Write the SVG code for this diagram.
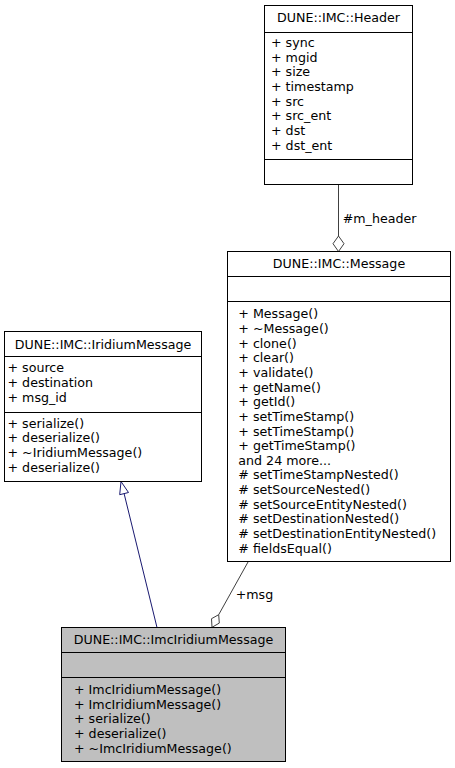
<svg xmlns="http://www.w3.org/2000/svg" width="455" height="768" viewBox="0 0 455 768">
<style>
text{font-family:"DejaVu Sans","Liberation Sans",sans-serif;font-size:12.65px;fill:#000}
.t{text-anchor:middle}
.box{fill:#fff;stroke:#000;stroke-width:1}
.cur{fill:#bfbfbf;stroke:#000;stroke-width:1}
.sep{stroke:#000;stroke-width:1}
.e{fill:none;stroke:#404040;stroke-width:1}
.d{fill:#fff;stroke:#404040;stroke-width:1}
.inh{fill:none;stroke:#191970;stroke-width:1}
.tri{fill:#fff;stroke:#191970;stroke-width:1}
</style>
<rect width="455" height="768" fill="#fff"/>
<g id="connectors">
<line class="e" x1="338.5" y1="184.5" x2="338.5" y2="236"/>
<polygon class="d" points="338.5,251.5 333,243.7 338.5,236 344,243.7"/>
<text x="342.7" y="222.5">#m_header</text>
<line class="inh" x1="157" y1="627.5" x2="124.1" y2="493.6"/>
<polygon class="tri" points="121,481.5 119.7,494.7 128.5,492.5"/>
<line class="e" x1="248.3" y1="561.5" x2="218.7" y2="614.7"/>
<polygon class="d" points="212,627.3 211.5,618.7 218.7,614.7 219.3,623.1"/>
<text x="235.7" y="598.5">+msg</text>
</g>
<g id="node-header">
<rect class="box" x="264.5" y="5.5" width="148" height="179"/>
<line class="sep" x1="264.5" y1="32.5" x2="412.5" y2="32.5"/>
<line class="sep" x1="264.5" y1="159.5" x2="412.5" y2="159.5"/>
<text class="t" x="338.5" y="22">DUNE::IMC::Header</text>
<text x="271" y="47">+ sync</text>
<text x="271" y="61.65">+ mgid</text>
<text x="271" y="76.3">+ size</text>
<text x="271" y="90.95">+ timestamp</text>
<text x="271" y="105.6">+ src</text>
<text x="271" y="120.25">+ src_ent</text>
<text x="271" y="134.9">+ dst</text>
<text x="271" y="149.55">+ dst_ent</text>
</g>
<g id="node-message">
<rect class="box" x="227.5" y="251.5" width="223" height="310"/>
<line class="sep" x1="227.5" y1="276.5" x2="450.5" y2="276.5"/>
<line class="sep" x1="227.5" y1="301.5" x2="450.5" y2="301.5"/>
<text class="t" x="339" y="268">DUNE::IMC::Message</text>
<text x="238.3" y="318.3">+ Message()</text>
<text x="238.3" y="332.95">+ ~Message()</text>
<text x="238.3" y="347.6">+ clone()</text>
<text x="238.3" y="362.25">+ clear()</text>
<text x="238.3" y="376.9">+ validate()</text>
<text x="238.3" y="391.55">+ getName()</text>
<text x="238.3" y="406.2">+ getId()</text>
<text x="238.3" y="420.85">+ setTimeStamp()</text>
<text x="238.3" y="435.5">+ setTimeStamp()</text>
<text x="238.3" y="450.15">+ getTimeStamp()</text>
<text x="238.3" y="464.8">and 24 more...</text>
<text x="238.3" y="479.45"># setTimeStampNested()</text>
<text x="238.3" y="494.1"># setSourceNested()</text>
<text x="238.3" y="508.75"># setSourceEntityNested()</text>
<text x="238.3" y="523.4"># setDestinationNested()</text>
<text x="238.3" y="538.05"># setDestinationEntityNested()</text>
<text x="238.3" y="552.7"># fieldsEqual()</text>
</g>
<g id="node-iridium">
<rect class="box" x="4.5" y="331.5" width="197" height="150"/>
<line class="sep" x1="4.5" y1="356.5" x2="201.5" y2="356.5"/>
<line class="sep" x1="4.5" y1="412.5" x2="201.5" y2="412.5"/>
<text class="t" x="103" y="348.5">DUNE::IMC::IridiumMessage</text>
<text x="7.5" y="372.3">+ source</text>
<text x="7.5" y="386.95">+ destination</text>
<text x="7.5" y="401.6">+ msg_id</text>
<text x="7.5" y="427.7">+ serialize()</text>
<text x="7.5" y="442.35">+ deserialize()</text>
<text x="7.5" y="457">+ ~IridiumMessage()</text>
<text x="7.5" y="471.65">+ deserialize()</text>
</g>
<g id="node-imciridium">
<rect class="cur" x="61.5" y="627.5" width="224" height="134"/>
<line class="sep" x1="61.5" y1="652.5" x2="285.5" y2="652.5"/>
<line class="sep" x1="61.5" y1="677.5" x2="285.5" y2="677.5"/>
<text class="t" x="173.5" y="644">DUNE::IMC::ImcIridiumMessage</text>
<text x="74" y="694">+ ImcIridiumMessage()</text>
<text x="74" y="708.65">+ ImcIridiumMessage()</text>
<text x="74" y="723.3">+ serialize()</text>
<text x="74" y="737.95">+ deserialize()</text>
<text x="74" y="752.6">+ ~ImcIridiumMessage()</text>
</g>
</svg>
